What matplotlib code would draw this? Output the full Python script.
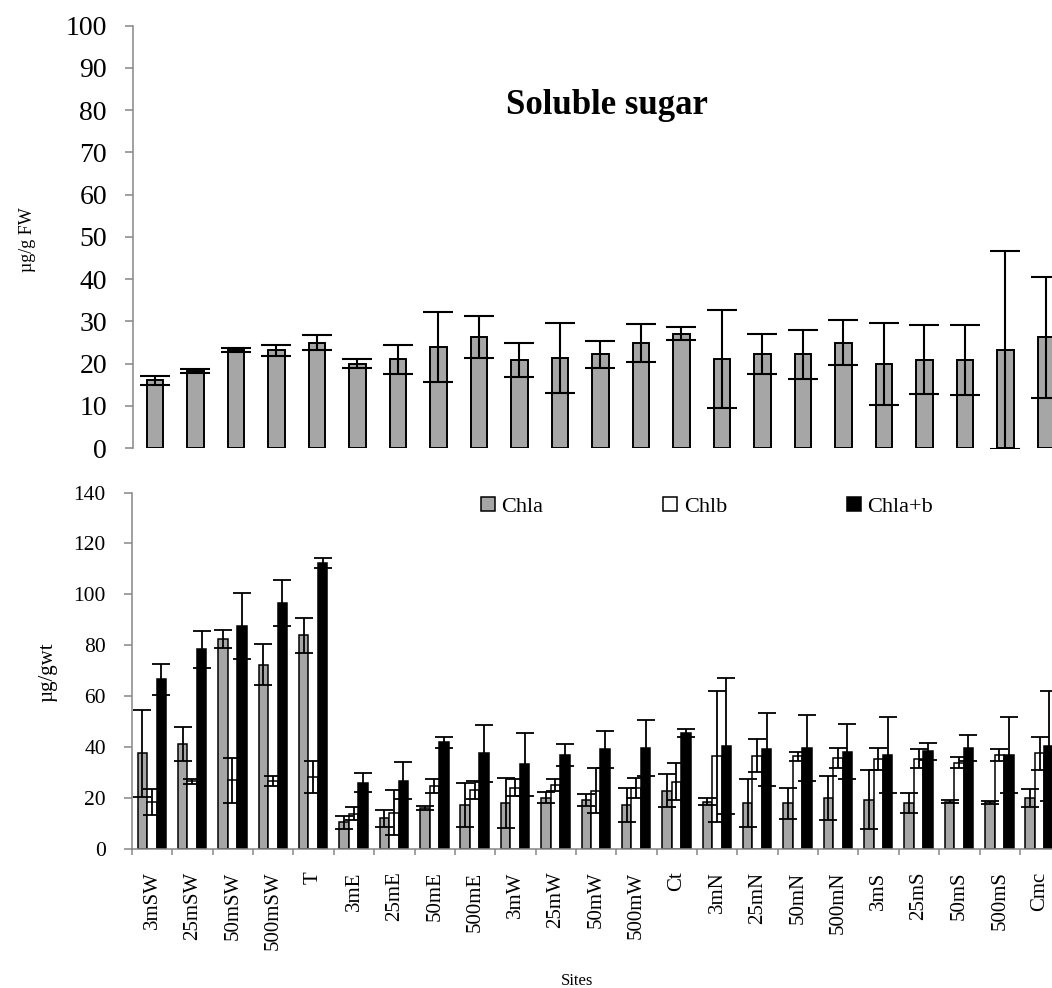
import matplotlib
matplotlib.use("Agg")
import matplotlib.pyplot as plt
import numpy as np
from matplotlib.patches import Patch

plt.rcParams["font.family"] = ["Liberation Serif", "DejaVu Serif"]

sites = ["3mSW", "25mSW", "50mSW", "500mSW", "T", "3mE", "25mE", "50mE", "500mE",
         "3mW", "25mW", "50mW", "500mW", "Ct", "3mN", "25mN", "50mN", "500mN",
         "3mS", "25mS", "50mS", "500mS", "Cmc"]

# soluble sugar (ug/g FW)
sugar = [16.0, 18.2, 23.2, 23.2, 24.9, 20.0, 21.0, 24.0, 26.2, 20.8, 21.3, 22.2,
         24.9, 27.1, 21.0, 22.2, 22.2, 24.9, 19.9, 20.9, 20.9, 23.2, 26.2]
sugar_err = [1.0, 0.5, 0.5, 1.3, 1.8, 1.0, 3.5, 8.3, 5.0, 4.0, 8.2, 3.2,
             4.5, 1.5, 11.6, 4.7, 5.8, 5.3, 9.6, 8.2, 8.3, 23.4, 14.3]

# chlorophyll (ug/g wt)
chla = [37.6, 41.3, 82.6, 72.5, 84.0, 10.6, 12.2, 16.1, 17.4, 18.0, 20.2, 19.3,
        17.4, 23.0, 18.7, 18.0, 18.0, 20.2, 19.5, 18.0, 18.7, 18.4, 20.2]
chla_err = [17.0, 6.8, 3.6, 8.2, 6.9, 2.5, 3.3, 0.8, 8.5, 9.8, 2.2, 2.4,
            6.6, 6.5, 1.5, 9.4, 6.0, 8.7, 11.6, 3.9, 0.7, 0.5, 3.6]
chlb = [18.5, 26.7, 27.0, 26.7, 28.4, 14.0, 14.4, 24.8, 23.2, 24.2, 25.2, 23.0,
        24.1, 26.6, 36.5, 36.8, 36.5, 35.8, 35.5, 35.5, 34.0, 36.9, 37.6]
chlb_err = [5.0, 1.0, 9.0, 2.0, 6.2, 2.5, 8.8, 2.6, 3.6, 3.2, 2.2, 8.8,
            4.0, 7.3, 25.7, 6.6, 1.8, 4.0, 4.4, 3.7, 2.2, 2.3, 6.5]
chlab = [66.7, 78.4, 87.7, 96.5, 112.4, 26.1, 26.9, 42.0, 37.6, 33.3, 37.0, 39.2,
         39.8, 45.5, 40.5, 39.2, 39.8, 38.3, 37.0, 38.5, 39.8, 37.0, 40.5]
chlab_err = [6.0, 7.2, 13.0, 9.0, 2.0, 3.7, 7.2, 2.2, 11.0, 12.2, 4.2, 7.2,
             10.9, 1.6, 26.8, 14.4, 12.9, 10.8, 15.0, 3.3, 5.0, 15.0, 21.7]

GRAY = "#a6a6a6"
AXIS = "#868686"
W, H = 1052, 988


def box(l, t, r, b):
    return [l / W, 1 - b / H, (r - l) / W, (b - t) / H]


def style_axis(ax, bottom=True):
    for s in ("top", "right"):
        ax.spines[s].set_visible(False)
    ax.spines["bottom"].set_visible(bottom)
    for s in ("left", "bottom"):
        ax.spines[s].set_color(AXIS)
        ax.spines[s].set_linewidth(1.1)
    ax.tick_params(axis="y", direction="out", length=5.8, width=1.1,
                   color=AXIS, pad=13)


fig = plt.figure(figsize=(W / 100, H / 100), dpi=100)

# --- top panel: soluble sugar
ax1 = fig.add_axes(box(133, 25.7, 1060, 448))
x1 = np.arange(len(sites))
ax1.bar(x1, sugar, width=0.41, color=GRAY, edgecolor="black", linewidth=1.4,
        yerr=sugar_err,
        error_kw=dict(ecolor="black", elinewidth=1.5, capsize=10.5, capthick=1.5))
ax1.set_xlim(-0.543, 22.35)
ax1.set_ylim(0, 100)
ax1.set_yticks(np.arange(0, 101, 10))
ax1.set_xticks([])
style_axis(ax1, bottom=False)
ax1.tick_params(axis="y", labelsize=20)

fig.text(607 / W, 1 - 106 / H, "Soluble sugar", ha="center", va="center",
         fontsize=25, fontweight="bold")
fig.text(28 / W, 1 - 240 / H, "µg/g FW", rotation=90, ha="center", va="center",
         fontsize=13)

# --- bottom panel: chlorophyll
ax2 = fig.add_axes(box(132, 492.5, 1060.3, 849.3))
c = np.arange(len(sites)) + 0.49
bw = 0.235
ekw = dict(ecolor="black", elinewidth=1.3, capsize=6.5, capthick=1.3)
ax2.bar(c - bw, chla, width=bw, color=GRAY, edgecolor="black", linewidth=1.1,
        yerr=chla_err, error_kw=ekw, label="Chla")
ax2.bar(c, chlb, width=bw, color="white", edgecolor="black", linewidth=1.1,
        yerr=chlb_err, error_kw=ekw, label="Chlb")
ax2.bar(c + bw, chlab, width=bw, color="black", edgecolor="black", linewidth=1.1,
        yerr=chlab_err, error_kw=ekw, label="Chla+b")
ax2.set_xlim(0, 23)
ax2.set_ylim(0, 140)
ax2.set_yticks(np.arange(0, 141, 20))
ax2.set_xticks(np.arange(len(sites)) + 0.5)
ax2.set_xticklabels(sites, rotation=90, fontsize=15)
ax2.set_xticks(np.arange(0, 24), minor=True)
ax2.tick_params(axis="x", which="major", length=0, pad=16)
ax2.tick_params(axis="x", which="minor", length=4.5, width=1.1, color=AXIS)
style_axis(ax2)
ax2.tick_params(axis="y", labelsize=15.5)

handles = [Patch(facecolor=GRAY, edgecolor="black", linewidth=1.1),
           Patch(facecolor="white", edgecolor="black", linewidth=1.1),
           Patch(facecolor="black", edgecolor="black", linewidth=1.1)]
fig.legend(handles, ["Chla", "Chlb", "Chla+b"], ncol=3, frameon=False,
           loc="center left", bbox_to_anchor=(481 / W, 1 - 507 / H),
           borderaxespad=0, borderpad=0, fontsize=16,
           handlelength=0.62, handleheight=0.62, handletextpad=0.3,
           columnspacing=5.4)

fig.text(48 / W, 1 - 672 / H, "µg/gwt", rotation=90, ha="center", va="center",
         fontsize=15)
fig.text(577 / W, 1 - 981 / H, "Sites", ha="center", va="center", fontsize=12)

fig.savefig("out.png", dpi=100)
